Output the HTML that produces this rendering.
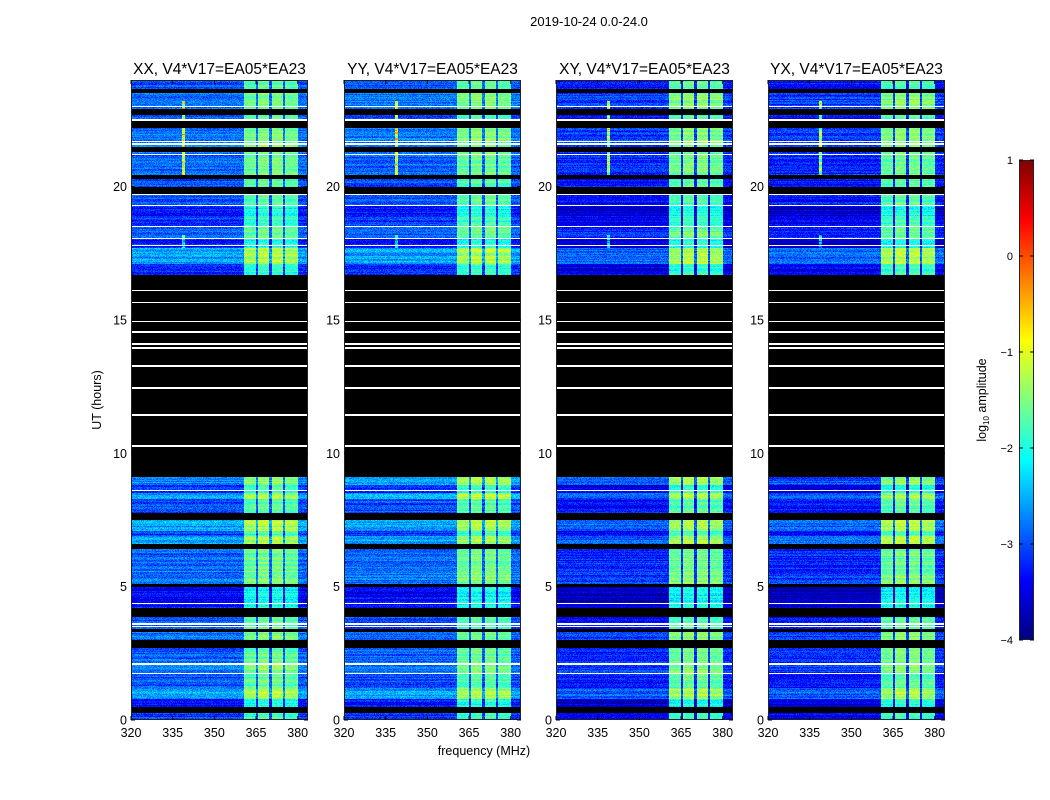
<!DOCTYPE html>
<html><head><meta charset="utf-8">
<style>
body{margin:0;background:#fff;width:1050px;height:800px;overflow:hidden;position:relative;font-family:"Liberation Sans",sans-serif}
canvas{position:absolute;image-rendering:pixelated}
svg{position:absolute;left:0;top:0}
text{font-family:"Liberation Sans",sans-serif;fill:#000}
</style></head>
<body>
<div>
<canvas id="c0" width="177" height="640" style="left:131px;top:80px"></canvas>
<canvas id="c1" width="177" height="640" style="left:344px;top:80px"></canvas>
<canvas id="c2" width="177" height="640" style="left:556px;top:80px"></canvas>
<canvas id="c3" width="177" height="640" style="left:768px;top:80px"></canvas>
<canvas id="cb" width="15" height="480" style="left:1019px;top:160px"></canvas>
<svg id="ov" width="1050" height="800"></svg>
</div>
<script>
// ---- data ----
const panelTitles=["XX, V4*V17=EA05*EA23","YY, V4*V17=EA05*EA23","XY, V4*V17=EA05*EA23","YX, V4*V17=EA05*EA23"];
const panelOffset=[0,0,-0.3,-0.3];
const segStart=[0,0.25,0.5,0.8,1.2,1.75,2.1,2.7,3.0,3.3,3.4,3.85,4.2,4.4,5.0,5.1,5.6,6.4,6.6,6.9,7.1,7.5,7.75,8.3,8.5,8.8,9.1,16.7,17.1,17.7,18.05,18.5,18.9,19.3,19.7,20.0,20.3,20.45,21.3,21.5,22.2,22.5,22.7,22.9,23.5,23.65];
const segEnd=[0.25,0.5,0.8,1.2,1.75,2.1,2.7,3.0,3.3,3.4,3.85,4.2,4.4,5.0,5.1,5.6,6.4,6.6,6.9,7.1,7.5,7.75,8.3,8.5,8.8,9.1,16.7,17.1,17.7,18.05,18.5,18.9,19.3,19.7,20.0,20.3,20.45,21.3,21.5,22.2,22.5,22.7,22.9,23.5,23.65,24];
const segLevel=[-3.1,null,-3.3,-2.6,-3.0,-2.8,-2.9,null,-2.8,null,-3.0,null,-3.3,-3.4,null,-2.8,-2.9,null,-2.6,-3.1,-2.6,null,-3.0,-2.6,-3.2,-2.7,null,-3.2,-2.6,-3.3,-2.9,-3.1,-3.3,-3.0,null,-3.0,null,-2.9,null,-2.8,null,-3.0,null,-2.8,null,-3.0];
const whiteLines=[1.75,2.1,3.5,3.6,4.37,8.6,10.28,11.44,12.45,13.27,13.94,14.09,14.54,14.95,15.66,16.1,17.8,18.05,18.5,19.3,19.7,21.2,21.6,21.7,22.5,23.0];
const bandLo=[360.5,365.8,370.6,375.5];
const bandHi=[365.0,369.8,374.7,380.0];
const bandBoost=[1.25,1.35,1.35,1.25];
const spikeFreq=[339,339];
const spikeBoost=[1.4,2.4];
const spikeFrom=[17.7,20.4];
const spikeTo=[18.2,23.2];
const yTicks=[0,5,10,15,20];
const xTicks=[320,335,350,365,380];
const cbTicks=[1,0,-1,-2,-3,-4];
// ---- scales ----
const FMIN=320,FMAX=383.7,TMIN=0,TMAX=24,VMIN=-4,VMAX=1;
const PW=177,PH=640,PT=80,PB=720,lefts=[131,344,556,768];
function xs(f,l){return l+(f-FMIN)/(FMAX-FMIN)*PW}
function ys(t){return PB-(t-TMIN)/(TMAX-TMIN)*PH}
function jet(v){let t=(v-VMIN)/(VMAX-VMIN);t=Math.max(0,Math.min(1,t));
 const c=x=>Math.round(255*Math.max(0,Math.min(1,x)));
 return [c(1.5-Math.abs(4*t-3)),c(1.5-Math.abs(4*t-2)),c(1.5-Math.abs(4*t-1))]}
function hash(a,b,p){let h=(a*374761393+b*668265263+p*2147483647)|0;h=(h^(h>>>13))*1274126177|0;return ((h^(h>>>16))>>>0)/4294967296}
function levelAt(t){for(let i=0;i<segStart.length;i++)if(t>=segStart[i]&&t<segEnd[i])return segLevel[i];return -3.3}
for(let p=0;p<4;p++){
 const cv=document.getElementById('c'+p),ctx=cv.getContext('2d'),img=ctx.createImageData(PW,PH);
 for(let y=0;y<PH;y++){
  const t=TMAX-(y+0.5)/PH*(TMAX-TMIN);
  const base=levelAt(t);
  let white=false;for(const w of whiteLines)if(Math.abs(t-w)<0.03)white=true;
  const rowN=(hash(y,7,p)-0.5)*0.4;
  for(let x=0;x<PW;x++){
   const f=FMIN+(x+0.5)/PW*(FMAX-FMIN);
   let rgb;
   if(white)rgb=[255,255,255];
   else if(base===null)rgb=[0,0,0];
   else{
    let v=base+rowN+(hash(x,y,p)-0.5)*0.5;
    let inBand=false;
    for(let b=0;b<bandLo.length;b++)if(f>=bandLo[b]&&f<bandHi[b]){v+=bandBoost[b];inBand=true}
    if(!inBand)v+=panelOffset[p];
    for(let s=0;s<spikeFreq.length;s++)if(t>spikeFrom[s]&&t<spikeTo[s]&&Math.abs(f-spikeFreq[s])<0.6)v+=spikeBoost[s]*(0.5+0.5*hash(y,3,p));
    rgb=jet(v);
   }
   const k=(y*PW+x)*4;img.data[k]=rgb[0];img.data[k+1]=rgb[1];img.data[k+2]=rgb[2];img.data[k+3]=255;
  }
 }
 ctx.putImageData(img,0,0);
}
// colorbar
{const cv=document.getElementById('cb'),ctx=cv.getContext('2d');
 for(let y=0;y<480;y++){const v=VMAX-(y+0.5)/480*(VMAX-VMIN);const c=jet(v);ctx.fillStyle=`rgb(${c[0]},${c[1]},${c[2]})`;ctx.fillRect(0,y,15,1)}}
// ---- axes overlay ----
const ov=document.getElementById('ov'),NS='http://www.w3.org/2000/svg';
function mk(tag,attrs,txt){const e=document.createElementNS(NS,tag);for(const k in attrs)e.setAttribute(k,attrs[k]);if(txt!==undefined)e.textContent=txt;ov.appendChild(e);return e}
let e=mk('text',{x:589,y:26,'text-anchor':'middle','font-size':13},'2019-10-24 0.0-24.0');


for(let p=0;p<4;p++){
 const L=lefts[p];
 e=mk('text',{x:L+PW/2,y:74,'text-anchor':'middle','font-size':15.5},panelTitles[p]);
 
 
 e=mk('rect',{x:L+0.5,y:PT+0.5,width:PW-1,height:PH-1,fill:'none',stroke:'#222','stroke-width':1});
 
 
 for(const t of yTicks){const y=ys(t);
  e=mk('line',{x1:L,x2:L+4,y1:y,y2:y,stroke:'#000'});
  
  
  mk('line',{x1:L+PW-4,x2:L+PW,y1:y,y2:y,stroke:'#000'});
  e=mk('text',{x:L-4,y:y+4.5,'text-anchor':'end','font-size':12.5},String(t));
  
  }
 for(const f of xTicks){const x=xs(f,L);
  e=mk('line',{x1:x,x2:x,y1:PB,y2:PB-4,stroke:'#000'});
  
  
  mk('line',{x1:x,x2:x,y1:PT,y2:PT+4,stroke:'#000'});
  e=mk('text',{x:x,y:737,'text-anchor':'middle','font-size':12.5},String(f));
  
  }
}
e=mk('text',{x:101,y:400,'text-anchor':'middle','font-size':12.5,transform:'rotate(-90 101 400)'},'UT (hours)');


e=mk('text',{x:484,y:755,'text-anchor':'middle','font-size':12.5},'frequency (MHz)');


e=mk('rect',{x:1019.5,y:160.5,width:14,height:479,fill:'none',stroke:'#222'});


for(const v of cbTicks){const y=160+(VMAX-v)/(VMAX-VMIN)*480;
 e=mk('text',{x:1013,y:y+4,'text-anchor':'end','font-size':11},v<0?'\u2212'+(-v):String(v));
 
 
 mk('line',{x1:1019,x2:1023,y1:y,y2:y,stroke:'#000'});mk('line',{x1:1030,x2:1034,y1:y,y2:y,stroke:'#000'});}
e=mk('text',{x:986,y:400,'text-anchor':'middle','font-size':12.5,transform:'rotate(-90 986 400)'});


const t1=document.createElementNS(NS,'tspan');t1.textContent='log';e.appendChild(t1);
const t2=document.createElementNS(NS,'tspan');t2.textContent='10';t2.setAttribute('font-size','8');t2.setAttribute('dy','3');e.appendChild(t2);
const t3=document.createElementNS(NS,'tspan');t3.textContent=' amplitude';t3.setAttribute('dy','-3');e.appendChild(t3);
</script>
</body></html>
